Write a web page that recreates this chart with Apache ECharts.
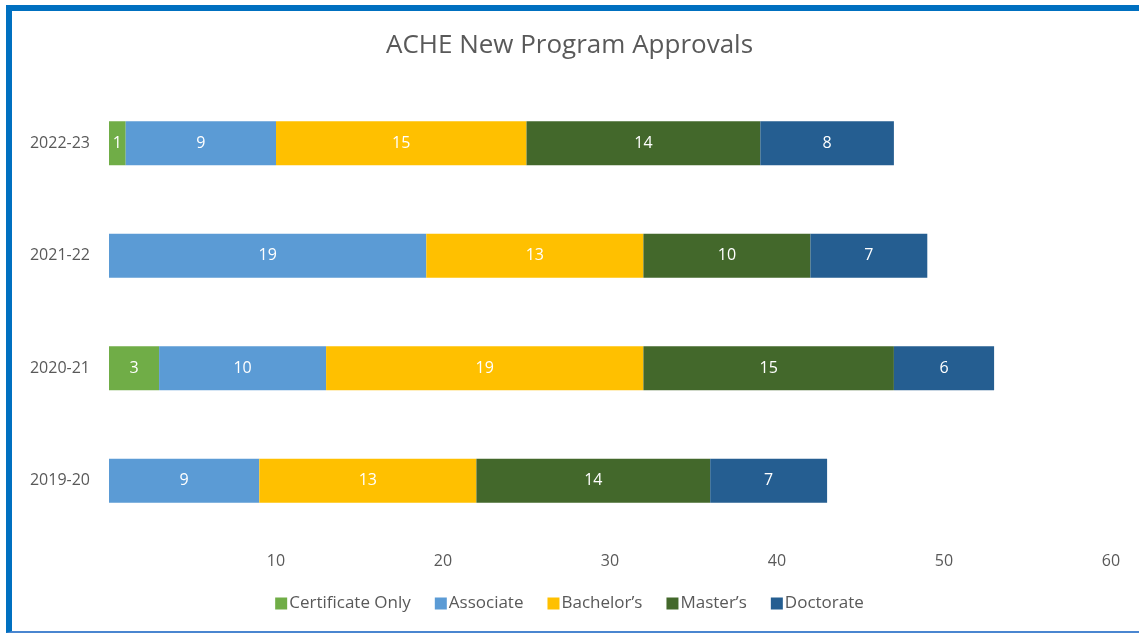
<!DOCTYPE html>
<html>
<head>
<meta charset="utf-8">
<script src="https://cdn.jsdelivr.net/npm/echarts@6/dist/echarts.min.js"></script>
<style>
  html, body { margin: 0; padding: 0; background: #fff; }
  #frame {
    position: absolute; left: 6px; top: 5px; width: 1133px; height: 628px;
    border-top: 6px solid #0070C0; border-left: 6px solid #0070C0;
    border-bottom: 2px solid #4A86D0; box-sizing: border-box;
  }
  #chart { position: absolute; left: 0; top: 0; width: 1139px; height: 635px; }
</style>
</head>
<body>
<div id="frame"></div>
<div id="chart"></div>
<script>
const years = ['2019-20', '2020-21', '2021-22', '2022-23']
const certificate = [null, 3, null, 1]
const associate = [9, 10, 19, 9]
const bachelors = [13, 19, 13, 15]
const masters = [14, 15, 10, 14]
const doctorate = [7, 6, 7, 8]

const names = ['Certificate Only', 'Associate', 'Bachelor’s', 'Master’s', 'Doctorate']
const colors = ['#70AD47', '#5B9BD5', '#FFC000', '#43682B', '#255E91']
const values = [certificate, associate, bachelors, masters, doctorate]

const font = '"Open Sans", "Liberation Sans", sans-serif'

const chart = echarts.init(document.getElementById('chart'), null, { renderer: 'canvas' })

chart.setOption({
  animation: false,
  color: colors,
  textStyle: { fontFamily: font },
  title: {
    text: 'ACHE New Program Approvals',
    left: 'center',
    top: 28,
    textStyle: { color: '#595959', fontSize: 26, fontWeight: 'normal', fontFamily: font }
  },
  legend: {
    data: names,
    bottom: 18,
    left: 'center',
    icon: 'rect',
    itemWidth: 12,
    itemHeight: 12,
    itemGap: 24,
    textStyle: { color: '#595959', fontSize: 17, padding: [0, 0, 0, -3] }
  },
  grid: { left: 109, right: 28, top: 87, height: 450 },
  xAxis: {
    type: 'value',
    min: 0,
    max: 60,
    interval: 10,
    splitLine: { show: false },
    axisLine: { show: false },
    axisTick: { show: false },
    axisLabel: {
      color: '#595959',
      fontSize: 16,
      margin: 16,
      formatter: v => (v === 0 ? '' : v)
    }
  },
  yAxis: {
    type: 'category',
    data: years,
    axisLine: { show: false },
    axisTick: { show: false },
    axisLabel: { color: '#595959', fontSize: 16, margin: 19 }
  },
  series: names.map((n, i) => ({
    name: n,
    type: 'bar',
    stack: 'total',
    barWidth: 44,
    data: values[i],
    itemStyle: { color: colors[i] },
    label: {
      show: true,
      color: '#fff',
      fontSize: 16,
      formatter: p => (p.value ? p.value : '')
    }
  }))
})
</script>
</body>
</html>
